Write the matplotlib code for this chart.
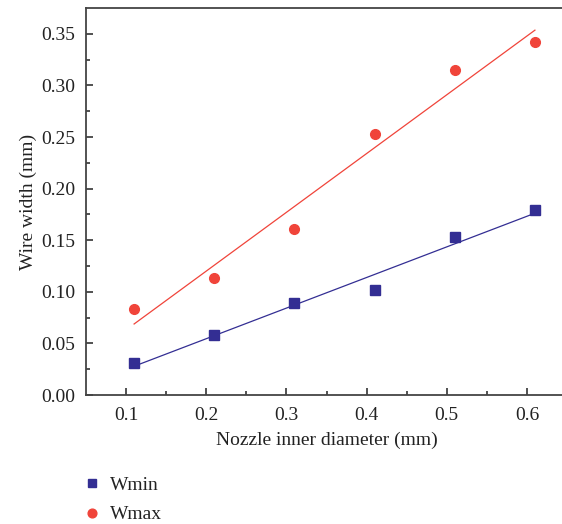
import matplotlib
matplotlib.use('Agg')
import matplotlib.pyplot as plt
import numpy as np

diameter = np.array([0.11, 0.21, 0.31, 0.41, 0.51, 0.61])
wmin = np.array([0.031, 0.058, 0.089, 0.102, 0.153, 0.179])
wmax = np.array([0.083, 0.113, 0.161, 0.253, 0.315, 0.342])

blue = '#332e93'
red = '#f0443a'

plt.rcParams['font.family'] = ['Liberation Serif', 'DejaVu Serif']
plt.rcParams['font.size'] = 14
plt.rcParams['text.color'] = '#222222'
plt.rcParams['axes.labelcolor'] = '#222222'
plt.rcParams['xtick.color'] = '#333333'
plt.rcParams['ytick.color'] = '#333333'
plt.rcParams['xtick.labelcolor'] = '#222222'
plt.rcParams['ytick.labelcolor'] = '#222222'

fig = plt.figure(figsize=(5.62, 5.24), dpi=100)
ax = fig.add_axes([86 / 562, 1 - 395 / 524, (567 - 86) / 562, 387 / 524])

ax.plot(diameter, wmin, 's', color=blue, markersize=7, label='Wmin', zorder=3)
ax.plot(diameter, wmax, 'o', color=red, markersize=7, label='Wmax', zorder=3)

# linear fits
p1 = np.polyfit(diameter, wmin, 1)
p2 = np.polyfit(diameter, wmax, 1)
ax.plot(diameter, np.polyval(p1, diameter), color=blue, lw=0.9)
ax.plot(diameter, np.polyval(p2, diameter), color=red, lw=0.9)

ax.set_xlim(0.05, 0.65)
ax.set_ylim(0, 0.375)
ax.set_xticks([0.1, 0.2, 0.3, 0.4, 0.5, 0.6])
ax.set_xticks(np.arange(0.15, 0.65, 0.1), minor=True)
ax.set_yticks(np.arange(0, 0.36, 0.05))
ax.set_yticks(np.arange(0.025, 0.375, 0.05), minor=True)
ax.set_yticklabels([f'{v:.2f}' for v in np.arange(0, 0.36, 0.05)])
ax.set_xticklabels([f'{v:.1f}' for v in [0.1, 0.2, 0.3, 0.4, 0.5, 0.6]])
ax.tick_params(which='major', direction='in', length=5, width=1.2)
ax.tick_params(axis='x', which='major', pad=9)
ax.tick_params(axis='y', which='major', pad=8)
ax.tick_params(which='minor', direction='in', length=3, width=1.2)
for s in ax.spines.values():
    s.set_color('#444444')
    s.set_linewidth(1.3)
ax.spines['right'].set_visible(False)

ax.set_xlabel('Nozzle inner diameter (mm)', labelpad=5)
ax.set_ylabel('Wire width (mm)', labelpad=3)

fig.legend(loc='upper left', bbox_to_anchor=(63 / 562, 1 - 459 / 524), frameon=False,
           handletextpad=0.3, labelspacing=0.6, markerscale=0.9, handlelength=1.2)

fig.savefig('out.png', dpi=100)
plt.close(fig)
